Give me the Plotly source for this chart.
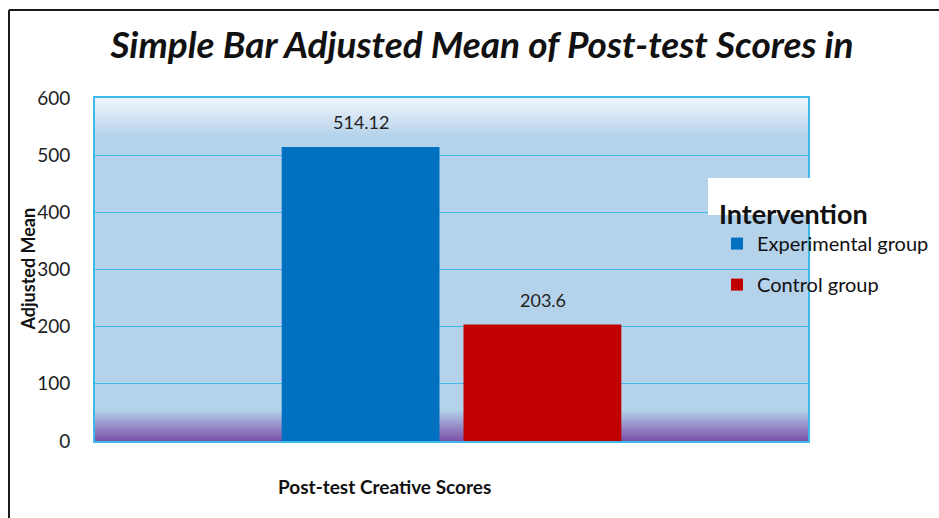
import plotly.graph_objects as go

# ---- data ----
categories = ["Post-test Creative Scores"]
groups = ["Experimental group", "Control group"]
values = [514.12, 203.6]
value_labels = ["514.12", "203.6"]
y_ticks = [0, 100, 200, 300, 400, 500, 600]
title_text = "Simple Bar Adjusted Mean of Post-test Scores in"
y_title = "Adjusted Mean"
legend_title = "Intervention"

colors = ["#0070C0", "#C00000"]
FONT = "Lato"
W, H = 939, 518
L, R, T, B = 95, 131, 98, 77
pw, ph = W - L - R, H - T - B


def px_x(px):
    return (px - L) / pw


def px_y(py):
    return (H - B - py) / ph


fig = go.Figure()

# background gradient bands (on the base numeric x axis)
light = "#b4d2ea"
fig.add_trace(go.Scatter(
    x=[0, 1, 1, 0, 0], y=[0, 0, 54, 54, 0], mode="lines", fill="toself",
    line=dict(width=0), fillgradient=dict(type="vertical", start=0, stop=54,
                                          colorscale=[[0, "#7a4fa8"], [1, light]]),
    showlegend=False, hoverinfo="skip", xaxis="x", yaxis="y"))
fig.add_trace(go.Scatter(
    x=[0, 1, 1, 0, 0], y=[532, 532, 600, 600, 532], mode="lines", fill="toself",
    line=dict(width=0), fillgradient=dict(type="vertical", start=532, stop=600,
                                          colorscale=[[0, light], [1, "#f1f6fc"]]),
    showlegend=False, hoverinfo="skip", xaxis="x", yaxis="y"))

for i, g in enumerate(groups):
    fig.add_trace(go.Bar(
        x=categories, y=[values[i]], name=g, marker=dict(color=colors[i], line=dict(width=0)),
        xaxis="x2", yaxis="y", legendgroup=g))
    fig.add_annotation(
        x=categories[0], y=values[i], xref="x2", yref="y", text=value_labels[i],
        showarrow=False, yanchor="bottom", yshift=12,
        xshift=(-91 if i == 0 else 91),
        font=dict(family=FONT, size=18, color="#222"))

grid_c = "#3db9ec"
fig.update_layout(
    width=W, height=H, autosize=False,
    margin=dict(l=L, r=R, t=T, b=B, autoexpand=False),
    paper_bgcolor="white", plot_bgcolor=light,
    barmode="group", bargap=0.49, bargroupgap=0.132,
    title=dict(text=f"<b><i>{title_text}</i></b>", x=px_x(482), xref="paper", xanchor="center",
               y=1 - 45 / H, yref="container", yanchor="middle",
               font=dict(family=FONT, size=37, color="#111")),
    xaxis=dict(range=[0, 1], showticklabels=False, showgrid=False, zeroline=False,
               showline=True, mirror=True, linecolor=grid_c, linewidth=2, ticks=""),
    xaxis2=dict(overlaying="x", range=[-0.5, 0.5], visible=False),
    yaxis=dict(range=[0, 600], tickvals=y_ticks, showgrid=True, gridcolor=grid_c, gridwidth=1,
               zeroline=False, showline=True, mirror=True, linecolor=grid_c, linewidth=2,
               ticks="", ticklabelstandoff=19,
               tickfont=dict(family=FONT, size=19, color="#222")),
    legend=dict(x=px_x(717), y=px_y(189), xanchor="left", yanchor="top",
                bgcolor="rgba(0,0,0,0)", tracegroupgap=12,
                title=dict(text=f"<b>{legend_title}</b>", font=dict(family=FONT, size=27, color="#111")),
                font=dict(family=FONT, size=20, color="#111")),
    showlegend=True,
)

# white box behind legend title
fig.add_shape(type="rect", xref="paper", yref="paper", x0=px_x(708), x1=px_x(811),
              y0=px_y(215), y1=px_y(178), fillcolor="white", line=dict(width=0), layer="above")

# outer frame (top and left)
fig.add_shape(type="line", xref="paper", yref="paper", x0=px_x(9), x1=px_x(960),
              y0=px_y(10), y1=px_y(10), line=dict(color="#1a1a1a", width=2))
fig.add_shape(type="line", xref="paper", yref="paper", x0=px_x(9), x1=px_x(9),
              y0=px_y(10), y1=px_y(540), line=dict(color="#1a1a1a", width=2))

# axis titles
fig.add_annotation(text=f"<b>{categories[0]}</b>", xref="paper", yref="paper",
                   x=px_x(384), y=px_y(486), xanchor="center", yanchor="middle", showarrow=False,
                   font=dict(family=FONT, size=19, color="#111"))
fig.add_annotation(text=f"<b>{y_title}</b>", xref="paper", yref="paper", textangle=-90,
                   x=px_x(27), y=0.5, xanchor="center", yanchor="middle", showarrow=False,
                   font=dict(family=FONT, size=18, color="#111"))

fig.write_html("out.html", config={"displayModeBar": False},
               post_script="document.body.style.margin='0';document.body.style.overflow='hidden';")
